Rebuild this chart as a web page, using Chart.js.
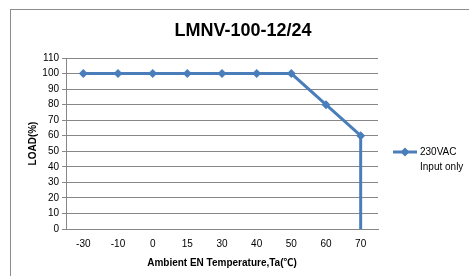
<!DOCTYPE html>
<html>
<head>
<meta charset="utf-8">
<script src="https://cdn.jsdelivr.net/npm/chart.js@4.4.0/dist/chart.umd.min.js"></script>
<style>
  html, body { margin: 0; padding: 0; background: #fff; overflow: hidden; }
  #wrap { position: relative; width: 469px; height: 276px; }
  #frame { position: absolute; left: 10px; top: 9px; width: 480px; height: 290px;
           border-left: 1px solid #8c8c8c; border-top: 1px solid #8c8c8c; }
  #titulo { position: absolute; left: 143px; width: 200px; top: 19px; text-align: center;
            font: bold 18px 'Liberation Sans', Arial, sans-serif; color: #000; line-height: 22px; }
  canvas { position: absolute; left: 0; top: 0; }
</style>
</head>
<body>
<div id="wrap">
  <div id="frame"></div>
  <canvas id="grafico" width="469" height="276"></canvas>
  <div id="titulo">LMNV-100-12/24</div>
</div>
<script>
const temperaturas = ['-30', '-10', '0', '15', '30', '40', '50', '60', '70'];
const cargas = [100, 100, 100, 100, 100, 100, 100, 80, 60];
// queda vertical no fim da curva (70 graus)
const quedaX = ['70', '70'];
const quedaY = [60, 0];
const legendaTexto = ['230VAC', 'Input only'];

const azul = '#4a7ebb';
const cinza = '#878787';
const fonte = "'Liberation Sans', Arial, sans-serif";
const fonteEixo = "'Liberation Sans', 'Noto Sans CJK SC', sans-serif";

const legendaPlugin = {
  id: 'legendaLateral',
  afterDraw(chart) {
    const ctx = chart.ctx;
    const x0 = 393, y0 = 152;
    ctx.save();
    ctx.strokeStyle = azul;
    ctx.lineWidth = 3;
    ctx.beginPath();
    ctx.moveTo(x0, y0);
    ctx.lineTo(x0 + 24, y0);
    ctx.stroke();
    ctx.fillStyle = azul;
    ctx.beginPath();
    ctx.moveTo(x0 + 12, y0 - 4.5);
    ctx.lineTo(x0 + 16.5, y0);
    ctx.lineTo(x0 + 12, y0 + 4.5);
    ctx.lineTo(x0 + 7.5, y0);
    ctx.closePath();
    ctx.fill();
    ctx.fillStyle = '#000';
    ctx.font = '10px ' + fonte;
    ctx.textBaseline = 'middle';
    legendaTexto.forEach((linha, i) => {
      ctx.fillText(linha, x0 + 27, y0 + i * 15);
    });
    ctx.restore();
  }
};

new Chart(document.getElementById('grafico'), {
  type: 'line',
  data: {
    labels: temperaturas,
    datasets: [
      {
        label: legendaTexto.join(' '),
        data: cargas,
        borderColor: azul,
        backgroundColor: azul,
        borderWidth: 3,
        pointStyle: 'rectRot',
        pointRadius: 4.5,
        pointHoverRadius: 4.5,
        pointBorderWidth: 0,
        tension: 0
      },
      {
        label: 'queda',
        data: quedaX.map((x, i) => ({ x: x, y: quedaY[i] })),
        borderColor: azul,
        borderWidth: 3,
        pointRadius: 0,
        tension: 0
      }
    ]
  },
  options: {
    responsive: false,
    animation: false,
    layout: { padding: { top: 58, right: 91, left: 0, bottom: 0 } },
    plugins: {
      legend: { display: false },
      tooltip: { enabled: false },
      title: { display: false }
    },
    scales: {
      x: {
        type: 'category',
        offset: true,
        grid: { display: false, drawTicks: false },
        border: { display: true, color: cinza, width: 1 },
        ticks: { color: '#000', font: { family: fonte, size: 10 }, padding: 9, maxRotation: 0 },
        title: {
          display: true,
          text: 'Ambient EN Temperature,Ta(℃)',
          color: '#000',
          font: { family: fonteEixo, size: 10, weight: 'bold', lineHeight: 1.2 },
          padding: { top: 7, bottom: 7 }
        },
        afterFit(scale) { scale.height = 47; }
      },
      y: {
        min: 0,
        max: 110,
        grid: { color: cinza, lineWidth: 1, drawTicks: true, tickLength: 4 },
        border: { display: true, color: cinza, width: 1 },
        ticks: { stepSize: 10, color: '#000', font: { family: fonte, size: 10 }, padding: 3 },
        title: {
          display: true,
          text: 'LOAD(%)',
          color: '#000',
          font: { family: fonte, size: 10, weight: 'bold', lineHeight: 1.2 },
          padding: { top: 27, bottom: 0 }
        },
        afterFit(scale) { scale.width = 66; }
      }
    }
  },
  plugins: [legendaPlugin]
});
</script>
</body>
</html>
